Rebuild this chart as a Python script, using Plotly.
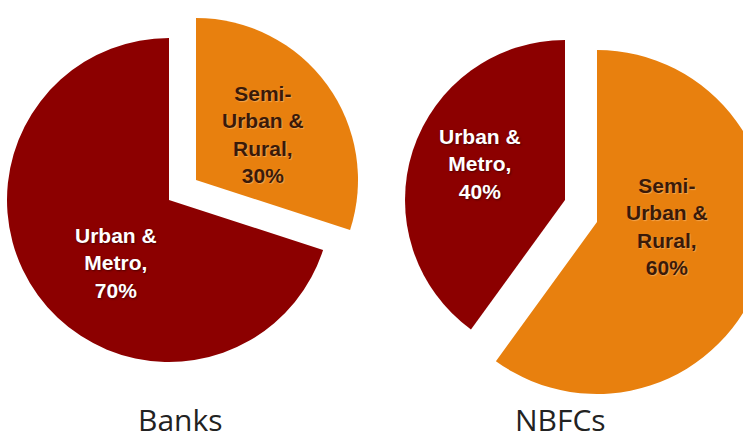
import plotly.graph_objects as go

# Share of branches / loan book by geography
categories = ["Semi-Urban & Rural", "Urban & Metro"]
label_lines = ["Semi-<br>Urban &<br>Rural", "Urban &<br>Metro"]
banks = [30, 70]
nbfcs = [60, 40]
panel_titles = ["Banks", "NBFCs"]

W, H = 780, 446
DARK_RED = "#8c0000"
ORANGE = "#e8800e"
slice_colors = [ORANGE, DARK_RED]
text_colors = ["#3a1a08", "#ffffff"]
text_shadows = ["1px 1px 1px rgba(255,200,140,0.5)", "1px 1px 2px rgba(60,0,0,0.8)"]

# (centre x, centre y, radius) in px for each slice of each panel;
# the orange slice sits offset from the red one to give the exploded look
geometry = {
    "Banks": [(196, 180, 162), (169, 200, 162)],
    "NBFCs": [(597, 222, 172), (565, 200, 160)],
}
# where each slice's data label is centred, in px
label_pos = {
    "Banks": [(263, 134), (116, 263)],
    "NBFCs": [(667, 226), (480, 164)],
}
title_x = [180, 560]


def domain(cx, cy, r):
    return dict(x=[(cx - r) / W, (cx + r) / W],
                y=[1 - (cy + r) / H, 1 - (cy - r) / H])


fig = go.Figure()
for title, values in zip(panel_titles, [banks, nbfcs]):
    for k, (cx, cy, r) in enumerate(geometry[title]):
        show = [i == k for i in range(len(values))]
        fig.add_trace(go.Pie(
            labels=categories,
            values=values,
            sort=False,
            direction="clockwise",
            rotation=0,
            domain=domain(cx, cy, r),
            marker=dict(colors=[slice_colors[i] if show[i] else "rgba(0,0,0,0)"
                                for i in range(len(values))],
                        line=dict(width=0)),
            textinfo="none",
            hoverinfo="skip",
            showlegend=False,
        ))
        lx, ly = label_pos[title][k]
        fig.add_annotation(
            text=f"{label_lines[k]},<br>{values[k]}%",
            x=lx / W, y=1 - ly / H, xref="paper", yref="paper",
            xanchor="center", yanchor="middle", showarrow=False, align="center",
            font=dict(family="Liberation Sans, Arial, sans-serif", size=21,
                      weight="bold", color=text_colors[k], shadow=text_shadows[k]),
        )

for t, x in zip(panel_titles, title_x):
    fig.add_annotation(text=t, x=x / W, y=1 - 419 / H, xref="paper", yref="paper",
                       xanchor="center", yanchor="middle", showarrow=False,
                       font=dict(family="Open Sans, sans-serif", size=30, color="#222222"))

fig.update_layout(width=W, height=H, margin=dict(l=0, r=0, t=0, b=0),
                  paper_bgcolor="white", plot_bgcolor="white")
fig.write_html("out.html")
